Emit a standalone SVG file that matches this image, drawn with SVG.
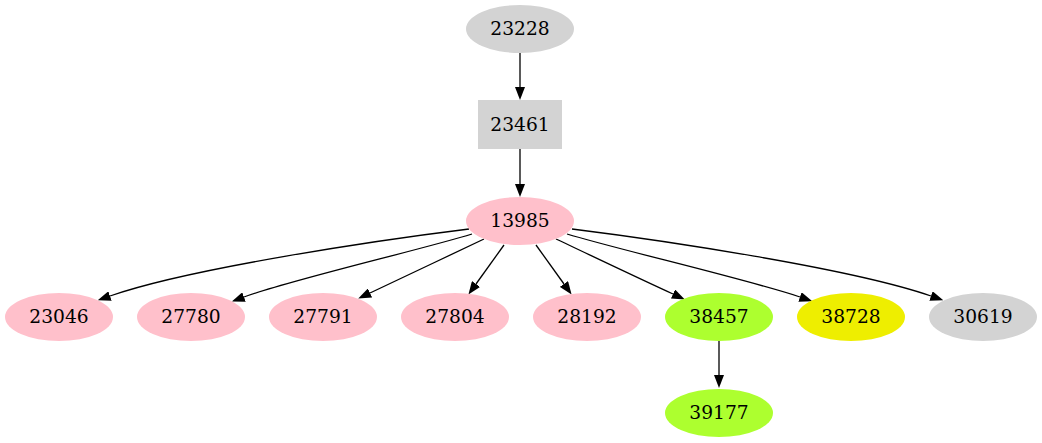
<svg xmlns="http://www.w3.org/2000/svg" width="1042" height="443" viewBox="0 0 1042 443">
<style>
text{font-family:"DejaVu Serif","Liberation Serif",serif;font-size:18.67px;text-anchor:middle;fill:#000}
.e{fill:none;stroke:#000;stroke-width:1.3}
.grey{fill:#d3d3d3}
.pink{fill:#ffc0cb}
.green{fill:#adff2f}
.yellow{fill:#eeee00}
</style>
<defs>
<marker id="ah" markerUnits="userSpaceOnUse" viewBox="0 0 13 10" refX="0" refY="5" markerWidth="13" markerHeight="10" orient="auto">
<path d="M0,0 L13,5 L0,10 z" fill="#000"/>
</marker>
</defs>
<rect width="1042" height="443" fill="#fff"/>
<g id="edges">
<path class="e" marker-end="url(#ah)" d="M520,53 L520,87"/>
<path class="e" marker-end="url(#ah)" d="M520,149 L520,184"/>
<path class="e" marker-end="url(#ah)" d="M719,341 L719,375"/>
<path class="e" marker-end="url(#ah)" d="M469,229 C380,240 190,268 110,296"/>
<path class="e" marker-end="url(#ah)" d="M472,234 C420,250 290,280 244,297"/>
<path class="e" marker-end="url(#ah)" d="M484,239 C450,255 400,279 370,293"/>
<path class="e" marker-end="url(#ah)" d="M504,245 L476,284"/>
<path class="e" marker-end="url(#ah)" d="M536,245 L564,284"/>
<path class="e" marker-end="url(#ah)" d="M556,239 C590,255 640,279 673,294"/>
<path class="e" marker-end="url(#ah)" d="M567,234 C620,250 750,280 800,297"/>
<path class="e" marker-end="url(#ah)" d="M572,229 C660,240 850,268 931,296"/>
</g>
<g id="n23228"><ellipse class="grey" cx="520" cy="29" rx="54" ry="24"/><text x="520" y="35">23228</text></g>
<g id="n23461"><rect class="grey" x="478" y="100" width="84" height="49"/><text x="520" y="131">23461</text></g>
<g id="n13985"><ellipse class="pink" cx="520" cy="221" rx="54" ry="24"/><text x="520" y="227">13985</text></g>
<g id="n23046"><ellipse class="pink" cx="59" cy="317" rx="54" ry="24"/><text x="59" y="323">23046</text></g>
<g id="n27780"><ellipse class="pink" cx="191" cy="317" rx="54" ry="24"/><text x="191" y="323">27780</text></g>
<g id="n27791"><ellipse class="pink" cx="323" cy="317" rx="54" ry="24"/><text x="323" y="323">27791</text></g>
<g id="n27804"><ellipse class="pink" cx="455" cy="317" rx="54" ry="24"/><text x="455" y="323">27804</text></g>
<g id="n28192"><ellipse class="pink" cx="587" cy="317" rx="54" ry="24"/><text x="587" y="323">28192</text></g>
<g id="n38457"><ellipse class="green" cx="719" cy="317" rx="54" ry="24"/><text x="719" y="323">38457</text></g>
<g id="n38728"><ellipse class="yellow" cx="851" cy="317" rx="54" ry="24"/><text x="851" y="323">38728</text></g>
<g id="n30619"><ellipse class="grey" cx="983" cy="317" rx="54" ry="24"/><text x="983" y="323">30619</text></g>
<g id="n39177"><ellipse class="green" cx="719" cy="413" rx="54" ry="24"/><text x="719" y="419">39177</text></g>
</svg>
